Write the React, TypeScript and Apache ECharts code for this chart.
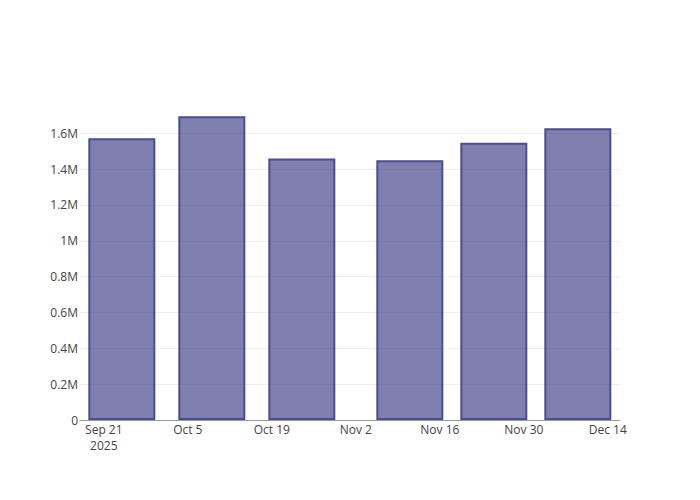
import React, { useEffect, useRef } from "react";
import * as echarts from "echarts";

const barDates = ["2025-09-24", "2025-10-09", "2025-10-24", "2025-11-11", "2025-11-25", "2025-12-09"];
const barValues = [1572000, 1695000, 1459000, 1450000, 1548000, 1628000];
const tickDates = ["2025-09-21", "2025-10-05", "2025-10-19", "2025-11-02", "2025-11-16", "2025-11-30", "2025-12-14"];
const yTicks = [0, 200000, 400000, 600000, 800000, 1000000, 1200000, 1400000, 1600000];

const MONTHS = ["Jan", "Feb", "Mar", "Apr", "May", "Jun", "Jul", "Aug", "Sep", "Oct", "Nov", "Dec"];
const DAY = 86400000;
const toMs = (s: string) => {
  const [y, m, d] = s.split("-").map(Number);
  return Date.UTC(y, m - 1, d);
};

export default function App() {
  const ref = useRef<HTMLDivElement>(null);
  useEffect(() => {
    if (!ref.current) return;
    const chart = echarts.init(ref.current, undefined, { renderer: "svg" });
    const firstTick = toMs(tickDates[0]);
    chart.setOption({
      animation: false,
      backgroundColor: "#fff",
      grid: { left: 80, right: 80, top: 100, bottom: 80, containLabel: false },
      xAxis: {
        type: "value",
        min: firstTick - 3.97 * DAY,
        max: firstTick + 86.03 * DAY,
        splitLine: { show: false },
        axisLine: { show: true, lineStyle: { color: "#999", width: 1 } },
        axisTick: { show: false },
        axisLabel: {
          customValues: tickDates.map(toMs),
          color: "#444",
          fontSize: 12,
          fontFamily: "'Open Sans', 'DejaVu Sans', sans-serif",
          margin: 1,
          lineHeight: 16,
          formatter: (v: number) => {
            const d = new Date(v);
            const s = MONTHS[d.getUTCMonth()] + " " + d.getUTCDate();
            return Math.abs(v - firstTick) < DAY / 2 ? s + "\n" + d.getUTCFullYear() : s;
          },
        },
      },
      yAxis: {
        type: "value",
        min: 0,
        max: 1786000,
        axisLine: { show: false },
        axisTick: { show: false, customValues: yTicks },
        splitLine: { show: true, lineStyle: { color: "#eee", width: 1 } },
        axisLabel: {
          customValues: yTicks,
          color: "#444",
          fontSize: 12,
          fontFamily: "'Open Sans', 'DejaVu Sans', sans-serif",
          margin: 2,
          formatter: (v: number) => (v === 0 ? "0" : String(+(v / 1e6).toFixed(1)) + "M"),
        },
      },
      series: [
        {
          type: "bar",
          barWidth: 67,
          data: barDates.map((d, i) => [toMs(d), barValues[i]]),
          itemStyle: {
            color: "rgba(42,42,124,0.6)",
            borderColor: "#4c4c8e",
            borderWidth: 2,
          },
        },
      ],
    });
    return () => chart.dispose();
  }, []);
  return <div ref={ref} style={{ width: 700, height: 500, position: "absolute", left: 0, top: 0 }} />;
}
